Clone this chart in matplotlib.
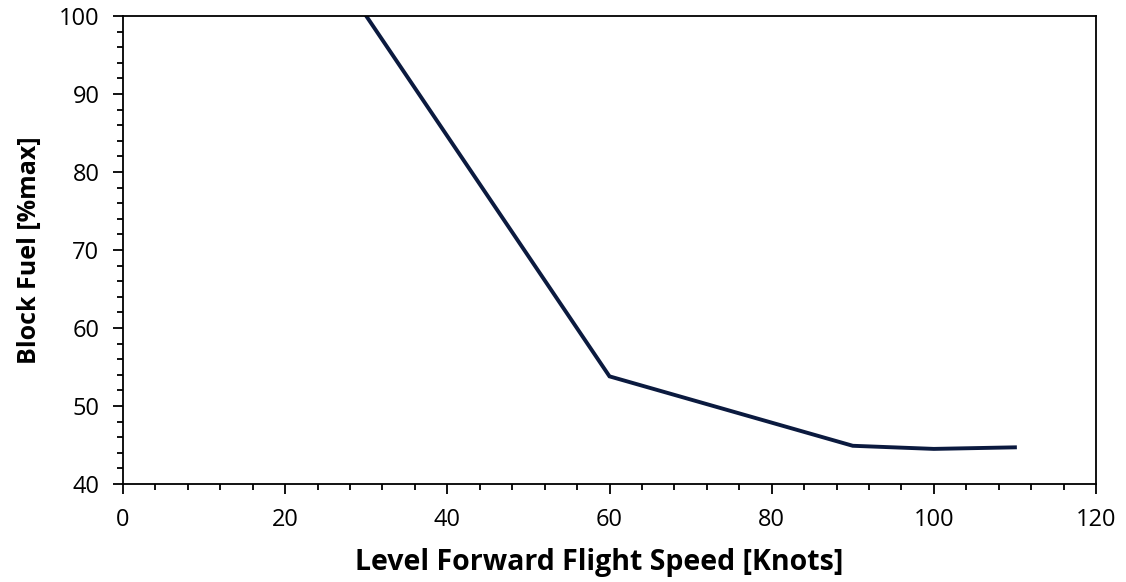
import matplotlib.pyplot as plt
from matplotlib.ticker import MultipleLocator

# Block fuel vs level forward flight speed
speed_knots = [30, 60, 90, 100, 110]
block_fuel_pct = [100, 53.8, 44.9, 44.5, 44.7]

plt.rcParams['font.family'] = ['Open Sans', 'DejaVu Sans']

fig = plt.figure(figsize=(11.26, 5.82), dpi=100)
ax = fig.add_axes([123 / 1126, 1 - 484 / 582, (1096 - 123) / 1126, (484 - 16) / 582])

ax.plot(speed_knots, block_fuel_pct, color='#0b1a3f', linewidth=2.8, solid_joinstyle='miter')

ax.set_xlim(0, 120)
ax.set_ylim(40, 100)
ax.xaxis.set_major_locator(MultipleLocator(20))
ax.xaxis.set_minor_locator(MultipleLocator(4))
ax.yaxis.set_major_locator(MultipleLocator(10))
ax.yaxis.set_minor_locator(MultipleLocator(2))
ax.tick_params(which='major', direction='out', length=7, width=1.3, labelsize=17, colors='black')
ax.tick_params(which='minor', direction='out', length=4, width=1.3)
ax.tick_params(axis='x', pad=10)
ax.tick_params(axis='y', pad=10)
for s in ax.spines.values():
    s.set_linewidth(1.3)

ax.set_xlabel('Level Forward Flight Speed [Knots]', fontsize=20.5, fontweight='bold', labelpad=12)
ax.set_ylabel('Block Fuel [%max]', fontsize=18, fontweight='bold', labelpad=12)
ax.xaxis.label.set_x(0.489)

fig.savefig('out.png', dpi=100)
